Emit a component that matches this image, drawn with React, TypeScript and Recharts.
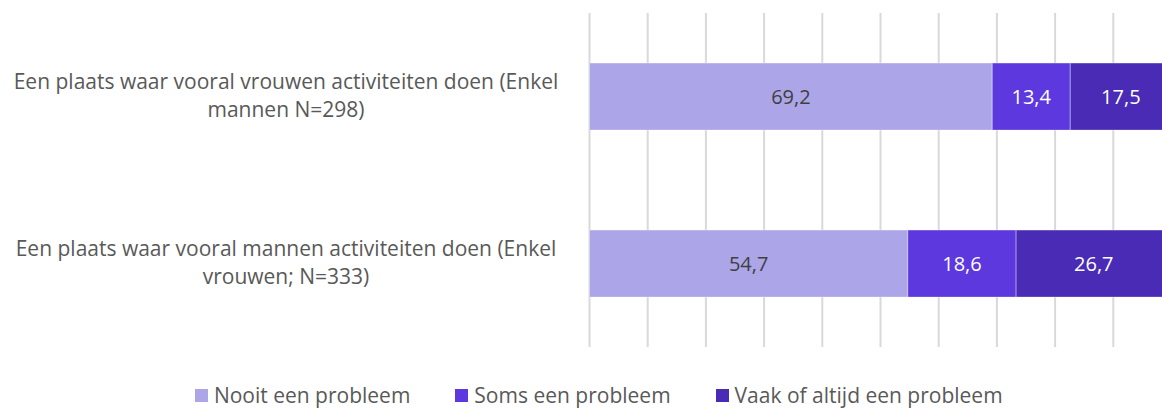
import React from "react";
import {
  BarChart,
  Bar,
  XAxis,
  YAxis,
  CartesianGrid,
  Legend,
  LabelList,
} from "recharts";

const categoryLines = [
  ["Een plaats waar vooral vrouwen activiteiten doen (Enkel", "mannen N=298)"],
  ["Een plaats waar vooral mannen activiteiten doen (Enkel", "vrouwen; N=333)"],
];
const categories = categoryLines.map((l) => l.join(" "));

const nooit = [69.2, 54.7];
const soms = [13.4, 18.6];
const vaak = [17.5, 26.7];

const seriesNames = ["Nooit een probleem", "Soms een probleem", "Vaak of altijd een probleem"];
const seriesColors = ["#aca6e8", "#5c38de", "#4a2bb5"];
const xTicks = [0, 10, 20, 30, 40, 50, 60, 70, 80, 90, 100];

const data = categories.map((name, i) => ({
  name,
  nooit: nooit[i],
  soms: soms[i],
  vaak: vaak[i],
}));

const FONT = "'Open Sans', sans-serif";
const LABEL_CENTER = 286;

const fmt = (v: any) => String(v).replace(".", ",");

function CategoryTick(props: any) {
  const { y, payload } = props;
  const idx = categories.indexOf(payload.value);
  const lines = categoryLines[idx] || [payload.value];
  return (
    <text textAnchor="middle" fill="#595959" fontSize={21} fontFamily={FONT}>
      {lines.map((line, i) => (
        <tspan key={i} x={LABEL_CENTER} y={y - 8 + i * 28.4}>
          {line}
        </tspan>
      ))}
    </text>
  );
}

function LegendContent() {
  return (
    <div
      style={{
        display: "flex",
        justifyContent: "center",
        alignItems: "center",
        height: 30,
        lineHeight: "30px",
        paddingLeft: 26,
        fontFamily: FONT,
        fontSize: 21,
        color: "#595959",
      }}
    >
      {seriesNames.map((n, i) => (
        <div key={n} style={{ display: "flex", alignItems: "center", marginRight: i < 2 ? 45 : 0 }}>
          <span
            style={{
              display: "inline-block",
              width: 13,
              height: 13,
              background: seriesColors[i],
              marginRight: 6,
            }}
          />
          <span>{n}</span>
        </div>
      ))}
    </div>
  );
}

export default function App() {
  return (
    <div
      style={{
        position: "absolute",
        left: 0,
        top: 0,
        width: 1162,
        height: 410,
        overflow: "hidden",
        background: "#fff",
        fontFamily: FONT,
      }}
    >
      <BarChart
        width={1180}
        height={410}
        data={data}
        layout="vertical"
        barCategoryGap="30%"
        margin={{ top: 13, right: 8.5, left: 0, bottom: 0 }}
      >
        <CartesianGrid horizontal={false} stroke="#d9d9d9" strokeWidth={2} />
        <XAxis
          type="number"
          domain={[0, 100]}
          ticks={xTicks}
          interval={0}
          allowDataOverflow
          tickFormatter={() => ""}
          axisLine={false}
          tickLine={false}
          height={33}
        />
        <YAxis
          type="category"
          dataKey="name"
          width={589.5}
          axisLine={false}
          tickLine={false}
          tick={<CategoryTick />}
        />
        <Legend verticalAlign="bottom" content={<LegendContent />} />
        <Bar dataKey="nooit" name={seriesNames[0]} stackId="a" fill={seriesColors[0]} stroke="rgba(255,255,255,0.35)" strokeWidth={1} isAnimationActive={false}>
          <LabelList dataKey="nooit" position="center" formatter={fmt} fill="#404040" fontSize={20} fontFamily={FONT} />
        </Bar>
        <Bar dataKey="soms" name={seriesNames[1]} stackId="a" fill={seriesColors[1]} stroke="rgba(255,255,255,0.35)" strokeWidth={1} isAnimationActive={false}>
          <LabelList dataKey="soms" position="center" formatter={fmt} fill="#ffffff" fontSize={20} fontFamily={FONT} />
        </Bar>
        <Bar dataKey="vaak" name={seriesNames[2]} stackId="a" fill={seriesColors[2]} stroke="rgba(255,255,255,0.35)" strokeWidth={1} isAnimationActive={false}>
          <LabelList dataKey="vaak" position="center" formatter={fmt} fill="#ffffff" fontSize={20} fontFamily={FONT} />
        </Bar>
      </BarChart>
    </div>
  );
}
